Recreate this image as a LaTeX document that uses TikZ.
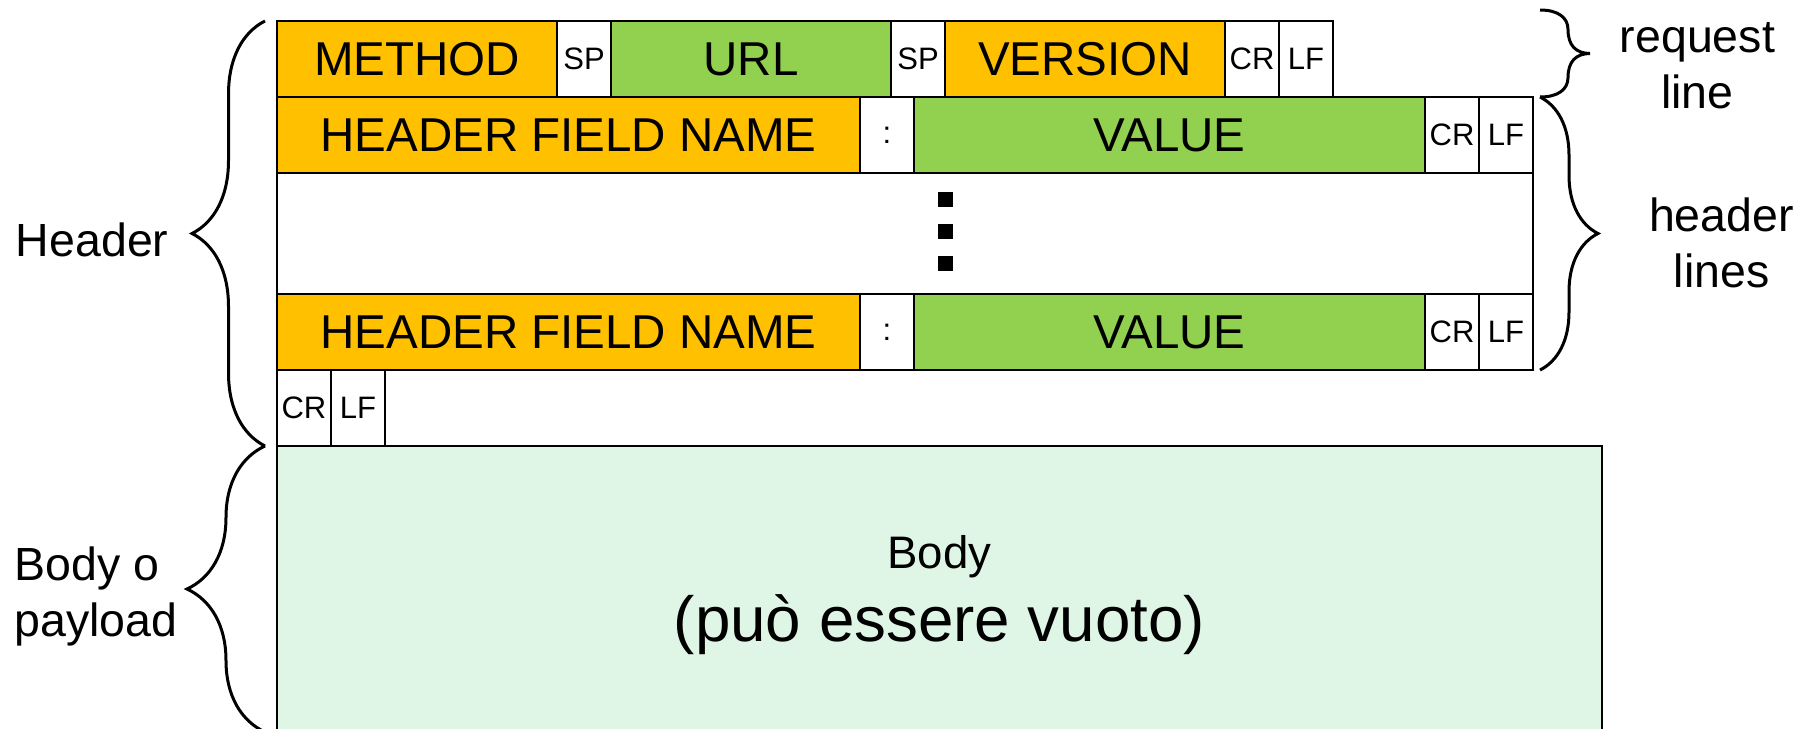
\documentclass[tikz,border=0pt]{standalone}
\usepackage{fontspec}
\setmainfont{Liberation Sans}
\usetikzlibrary{decorations.pathreplacing,positioning}

\definecolor{fieldorange}{HTML}{FFC000}
\definecolor{fieldgreen}{HTML}{92D050}
\definecolor{bodymint}{HTML}{DFF5E5}

\newcommand{\cellbig}{\fontsize{23.75}{28}\selectfont}
\newcommand{\cellsmall}{\fontsize{15.5}{18}\selectfont}
\newcommand{\sidefont}{\fontsize{23.25}{28}\selectfont}

\tikzset{
  cell/.style={draw, line width=0.75pt, inner sep=0pt, outer sep=0pt, minimum height=38pt},
  curly/.style 2 args={decoration={brace, amplitude=#1, raise=#2}, decorate, line width=1.5pt},
  side/.style={font=\sidefont, align=center, inner sep=0pt},
  dot/.style={fill=black, inner sep=0pt, minimum size=7.5pt}
}

\begin{document}
\begin{tikzpicture}
\useasboundingbox (0,0) rectangle (904.5pt,-364pt);

% request line
\coordinate (R0) at (138.5pt,-29.5pt);
\foreach \txt/\w/\col/\fnt [count=\n, remember=\n as \m (initially 0)] in
  {METHOD/140/fieldorange/\cellbig, SP/27/white/\cellsmall, URL/140/fieldgreen/\cellbig,
   SP/27/white/\cellsmall, VERSION/140/fieldorange/\cellbig, CR/27/white/\cellsmall, LF/27/white/\cellsmall}
  \node[cell, fill=\col, minimum width=\w pt, font=\fnt, right=0pt of R\m] (R\n) {\txt};

% first header line
\coordinate (A0) at ([yshift=-38pt]R0);
\foreach \txt/\w/\col/\fnt [count=\n, remember=\n as \m (initially 0)] in
  {HEADER FIELD NAME/291.5/fieldorange/\cellbig, :/27/white/\cellsmall, VALUE/255.5/fieldgreen/\cellbig,
   CR/27/white/\cellsmall, LF/27/white/\cellsmall}
  \node[cell, fill=\col, minimum width=\w pt, font=\fnt, right=0pt of A\m] (A\n) {\txt};

% more header lines
\node[cell, minimum width=628pt, minimum height=60.5pt, anchor=north west] (gap) at (A1.south west) {};
\foreach \k [count=\n] in {1,0,-1}
  \node[dot] (dot\n) at ([xshift=20pt,yshift=\k*16pt+1pt]gap.center) {};

% last header line
\coordinate (B0) at ([yshift=-19pt]gap.south west);
\foreach \txt/\w/\col/\fnt [count=\n, remember=\n as \m (initially 0)] in
  {HEADER FIELD NAME/291.5/fieldorange/\cellbig, :/27/white/\cellsmall, VALUE/255.5/fieldgreen/\cellbig,
   CR/27/white/\cellsmall, LF/27/white/\cellsmall}
  \node[cell, fill=\col, minimum width=\w pt, font=\fnt, right=0pt of B\m] (B\n) {\txt};

% empty line
\coordinate (C0) at ([yshift=-38pt]B0);
\foreach \txt [count=\n, remember=\n as \m (initially 0)] in {CR,LF}
  \node[cell, minimum width=27pt, font=\cellsmall, right=0pt of C\m] (C\n) {\txt};

% body
\node[cell, fill=bodymint, minimum width=662.5pt, minimum height=149pt, anchor=north west,
  font=\fontsize{31.85}{36.5}\selectfont, align=center] (body) at (C1.south west)
  {{\fontsize{22.8}{27}\selectfont Body}\\(può essere vuoto)};

% braces
\draw[curly={36.5pt}{6pt}] (C1.south west) -- (R1.north west)
  node[midway, side, left=53.5pt, yshift=-3pt] {Header};
\draw[curly={39pt}{6pt}] ([yshift=6pt]body.south west) -- (body.north west)
  node[midway, side, align=left, left=49pt, yshift=-3.75pt] {Body o\\payload};
\draw[curly={29pt}{3.5pt}] (A5.north east) -- (B5.south east)
  node[midway, side, right=57.3pt, yshift=-4.5pt] {header\\lines};

\coordinate (rqtop) at ([xshift=3.5pt,yshift=43.5pt]A5.north east);
\coordinate (rqbot) at ([xshift=3.5pt]A5.north east);
\coordinate (rqtip) at ([xshift=28.5pt,yshift=21.75pt]A5.north east);
\draw[line width=1.5pt] (rqtop) .. controls +(9pt,0pt) and +(0pt,6pt) .. ([xshift=-11pt,yshift=12pt]rqtip)
  .. controls +(0pt,-8pt) and +(-7pt,0pt) .. (rqtip)
  .. controls +(-7pt,0pt) and +(0pt,8pt) .. ([xshift=-11pt,yshift=-12pt]rqtip)
  .. controls +(0pt,-6pt) and +(9pt,0pt) .. (rqbot);
\node[side, right=14.75pt of rqtip, yshift=-6pt] (rqlabel) {request\\line};
\end{tikzpicture}
\end{document}
